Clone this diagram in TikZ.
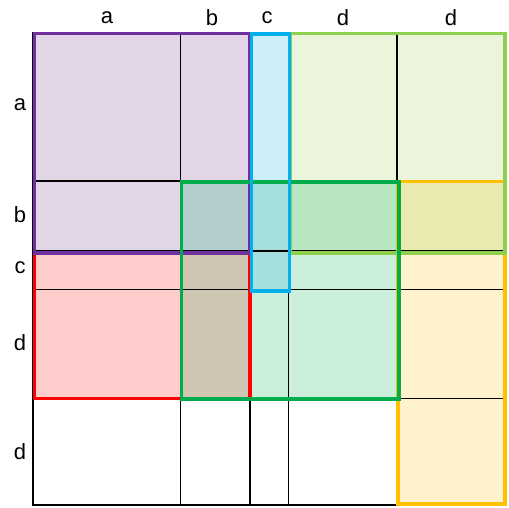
\documentclass[tikz,border=0pt]{standalone}
\usepackage{fontspec}
\setmainfont{Liberation Sans}
\usepackage{xcolor}
\usetikzlibrary{positioning}

\definecolor{purpleline}{HTML}{7030A0}
\definecolor{purplefill}{HTML}{E1D5E7}
\definecolor{cyanline}{HTML}{00B0F0}
\definecolor{cyanfill}{HTML}{CCEFFA}
\definecolor{limeline}{HTML}{8ED04E}
\definecolor{limefill}{HTML}{EAF5DC}
\definecolor{yellowline}{HTML}{FFC000}
\definecolor{yellowfill}{HTML}{FFF2CC}
\definecolor{redline}{HTML}{FF0000}
\definecolor{redfill}{HTML}{FFCCCC}
\definecolor{greenline}{HTML}{00AD4C}
\definecolor{greenfill}{HTML}{CCEFDC}
\definecolor{purplegreen}{HTML}{B5CCCC}
\definecolor{redgreen}{HTML}{CEC6B3}
\definecolor{cyangreen}{HTML}{A5E0DE}
\definecolor{limegreen}{HTML}{B8E6C0}
\definecolor{limeyellow}{HTML}{EAE9B0}

\begin{document}
\begin{tikzpicture}[x=1pt, y=-1pt,
  every node/.style={font=\fontsize{22}{26}\selectfont, inner sep=0pt},
  gridline/.style={draw=black, line width=1.8pt},
  frame/.style={line width=3.6pt}]
\useasboundingbox (0,0) rectangle (509,507);

% fills
\fill [purplefill] (33,33) rectangle (250,253);
\fill [cyanfill] (250,33) rectangle (289,291);
\fill [limefill] (289,33) rectangle (506,253);
\fill [yellowfill] (397,181) rectangle (506,505);
\fill [redfill] (33,253) rectangle (250,398);
\fill [greenfill] (181,181) rectangle (398,398);
% overlaps
\fill [purplegreen] (181,181) rectangle (250,253);
\fill [redgreen] (181,253) rectangle (250,398);
\fill [cyangreen] (250,181) rectangle (289,291);
\fill [limegreen] (289,181) rectangle (398,253);
\fill [limeyellow] (398,181) rectangle (506,253);

% grid
\draw [gridline] (33,33) rectangle (506,505);
\draw [gridline] (180.5,33) -- (180.5,505);
\draw [gridline] (250,33) -- (250,505);
\draw [gridline] (288.5,33) -- (288.5,505);
\draw [gridline] (397,33) -- (397,505);
\draw [gridline] (33,181) -- (506,181);
\draw [gridline] (33,251) -- (506,251);
\draw [gridline] (33,289.5) -- (506,289.5);
\draw [gridline] (33,398.5) -- (506,398.5);

% blocks
\draw [frame, redline] (34.5,253) rectangle (250,398.5);
\draw [frame, purpleline] (34.5,33.5) rectangle (250,253);
\draw [frame, yellowline] (398,181.5) rectangle (505,504);
\draw [frame, limeline] (290,33.5) rectangle (505,253);
\draw [frame, greenline] (181.5,182) rectangle (399,399);
\draw [frame, cyanline] (251.5,34) rectangle (289.5,291);

% column labels
\node (colA) at (107,18) {a};
\node (colB) at (212,18) {b};
\node (colC) at (267,18) {c};
\node (colD) at (343,18) {d};
\node (colE) at (451,18) {d};
% row labels
\node (rowA) at (20,105) {a};
\node (rowB) at (20,215) {b};
\node (rowC) at (20,268) {c};
\node (rowD) at (20,343) {d};
\node (rowE) at (20,452) {d};
\end{tikzpicture}
\end{document}
